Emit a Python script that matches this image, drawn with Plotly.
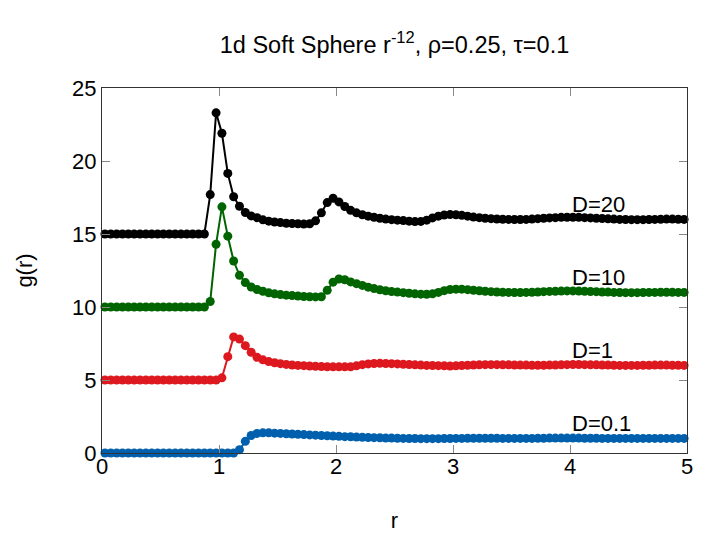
import plotly.graph_objects as go

r = [0.025, 0.075, 0.125, 0.175, 0.225, 0.275, 0.325, 0.375, 0.425, 0.475,
     0.525, 0.575, 0.625, 0.675, 0.725, 0.775, 0.825, 0.875, 0.925, 0.975,
     1.025, 1.075, 1.125, 1.175, 1.225, 1.275, 1.325, 1.375, 1.425, 1.475,
     1.525, 1.575, 1.625, 1.675, 1.725, 1.775, 1.825, 1.875, 1.925, 1.975,
     2.025, 2.075, 2.125, 2.175, 2.225, 2.275, 2.325, 2.375, 2.425, 2.475,
     2.525, 2.575, 2.625, 2.675, 2.725, 2.775, 2.825, 2.875, 2.925, 2.975,
     3.025, 3.075, 3.125, 3.175, 3.225, 3.275, 3.325, 3.375, 3.425, 3.475,
     3.525, 3.575, 3.625, 3.675, 3.725, 3.775, 3.825, 3.875, 3.925, 3.975,
     4.025, 4.075, 4.125, 4.175, 4.225, 4.275, 4.325, 4.375, 4.425, 4.475,
     4.525, 4.575, 4.625, 4.675, 4.725, 4.775, 4.825, 4.875, 4.925, 4.975]

g_D20 = [15.0, 15.0, 15.0, 15.0, 15.0, 15.0, 15.0, 15.0, 15.0, 15.0,
         15.0, 15.0, 15.0, 15.0, 15.0, 15.0, 15.0, 15.0, 17.7, 23.3,
         21.9, 19.15, 17.55, 16.9, 16.47, 16.24, 16.12, 15.97, 15.88, 15.82,
         15.78, 15.74, 15.72, 15.7, 15.68, 15.7, 15.9, 16.45, 17.15, 17.45,
         17.2, 16.88, 16.62, 16.45, 16.32, 16.22, 16.15, 16.08, 16.02, 15.98,
         15.95, 15.92, 15.88, 15.85, 15.86, 15.95, 16.1, 16.22, 16.3, 16.33,
         16.32, 16.28, 16.22, 16.16, 16.12, 16.08, 16.05, 16.03, 16.01, 16.0,
         15.99, 15.99, 16.0, 16.02, 16.05, 16.08, 16.1, 16.12, 16.14, 16.15,
         16.15, 16.14, 16.12, 16.1, 16.08, 16.06, 16.04, 16.02, 16.0, 15.99,
         15.98, 15.98, 15.98, 15.99, 16.0, 16.01, 16.02, 16.02, 16.01, 16.0]

g_D10 = [10.0, 10.0, 10.0, 10.0, 10.0, 10.0, 10.0, 10.0, 10.0, 10.0,
         10.0, 10.0, 10.0, 10.0, 10.0, 10.0, 10.0, 10.0, 10.38, 14.3,
         16.86, 14.85, 13.15, 12.17, 11.67, 11.37, 11.2, 11.08, 10.97, 10.9,
         10.85, 10.81, 10.78, 10.75, 10.72, 10.7, 10.69, 10.7, 11.14, 11.7,
         11.92, 11.87, 11.72, 11.6, 11.48, 11.36, 11.26, 11.18, 11.11, 11.06,
         11.02, 10.98, 10.94, 10.9, 10.88, 10.87, 10.9, 11.0, 11.12, 11.2,
         11.22, 11.22, 11.19, 11.15, 11.11, 11.08, 11.05, 11.03, 11.01, 11.0,
         10.99, 10.99, 11.0, 11.01, 11.03, 11.05, 11.07, 11.08, 11.09, 11.1,
         11.1, 11.09, 11.08, 11.06, 11.05, 11.03, 11.02, 11.0, 10.99, 10.98,
         10.98, 10.98, 10.99, 11.0, 11.0, 11.01, 11.01, 11.01, 11.0, 11.0]

g_D1 = [5.0, 5.0, 5.0, 5.0, 5.0, 5.0, 5.0, 5.0, 5.0, 5.0,
        5.0, 5.0, 5.0, 5.0, 5.0, 5.0, 5.0, 5.0, 5.0, 5.0,
        5.15, 6.6, 7.95, 7.8, 7.35, 6.9, 6.55, 6.38, 6.26, 6.18,
        6.12, 6.07, 6.03, 6.0, 5.98, 5.96, 5.94, 5.92, 5.91, 5.9,
        5.9, 5.9, 5.91, 5.97, 6.05, 6.1, 6.13, 6.14, 6.13, 6.12,
        6.1, 6.08, 6.06, 6.04, 6.02, 6.0, 5.99, 5.98, 5.97, 5.96,
        5.97, 5.99, 6.01, 6.03, 6.04, 6.05, 6.05, 6.05, 6.04, 6.04,
        6.03, 6.02, 6.02, 6.01, 6.01, 6.01, 6.02, 6.03, 6.04, 6.05,
        6.06, 6.06, 6.05, 6.04, 6.04, 6.03, 6.02, 6.01, 6.0, 6.0,
        6.0, 6.0, 6.01, 6.01, 6.02, 6.02, 6.02, 6.01, 6.01, 6.0]

g_D01 = [0.0, 0.0, 0.0, 0.0, 0.0, 0.0, 0.0, 0.0, 0.0, 0.0,
         0.0, 0.0, 0.0, 0.0, 0.0, 0.0, 0.0, 0.0, 0.0, 0.0,
         0.0, 0.0, 0.0, 0.22, 0.8, 1.2, 1.34, 1.38, 1.38, 1.36,
         1.34, 1.32, 1.3, 1.28, 1.26, 1.24, 1.22, 1.2, 1.18, 1.16,
         1.14, 1.12, 1.11, 1.09, 1.08, 1.06, 1.05, 1.04, 1.03, 1.02,
         1.01, 1.0, 0.99, 0.99, 0.98, 0.98, 0.98, 0.98, 0.99, 0.99,
         1.0, 1.0, 1.01, 1.01, 1.01, 1.01, 1.01, 1.01, 1.0, 1.0,
         1.0, 1.0, 1.0, 1.0, 1.01, 1.01, 1.02, 1.02, 1.02, 1.02,
         1.02, 1.02, 1.01, 1.01, 1.01, 1.0, 1.0, 1.0, 1.0, 1.0,
         1.0, 1.0, 1.0, 1.0, 1.0, 1.0, 1.0, 1.0, 1.0, 1.0]

series_names = ["D=20", "D=10", "D=1", "D=0.1"]
series_values = [g_D20, g_D10, g_D1, g_D01]
series_colors = ["#000000", "#006400", "#dd181f", "#0060ad"]
label_x = [4.0, 4.0, 4.0, 4.0]
label_y = [17.0, 12.0, 7.0, 2.0]

x_ticks = [0, 1, 2, 3, 4, 5]
y_ticks = [0, 5, 10, 15, 20, 25]

FONT = "Liberation Sans, Arial, Helvetica, sans-serif"
FS = 22

fig = go.Figure()
for name, vals, col in zip(series_names, series_values, series_colors):
    fig.add_trace(go.Scatter(
        x=r, y=vals, mode="lines+markers", name=name,
        line=dict(color=col, width=2),
        marker=dict(color=col, size=9, symbol="circle"),
        showlegend=False, cliponaxis=False,
    ))

for name, lx, ly in zip(series_names, label_x, label_y):
    fig.add_annotation(x=lx, y=ly, text=name, showarrow=False,
                       xanchor="left", yanchor="middle",
                       font=dict(size=FS, color="#000000", family=FONT))

axis_common = dict(
    showgrid=False, zeroline=False, showline=True, linecolor="#333333",
    linewidth=1, mirror="ticks", ticks="inside", ticklen=8,
    tickcolor="#888888", tickwidth=1,
    tickfont=dict(size=FS, color="#000000", family=FONT),
)

fig.update_xaxes(range=[0, 5], tickvals=x_ticks, ticklabelstandoff=-6,
                 title=dict(text="r", font=dict(size=FS, family=FONT, color="#000000"),
                            standoff=34),
                 **axis_common)
fig.update_yaxes(range=[0, 25], tickvals=y_ticks,
                 title=dict(text="g(r)", font=dict(size=FS, family=FONT, color="#000000"),
                            standoff=33),
                 **axis_common)

fig.update_layout(
    width=727, height=545,
    margin=dict(l=94, r=48, t=80, b=100),
    paper_bgcolor="white", plot_bgcolor="white",
    title=dict(text="1d Soft Sphere r<sup>-12</sup>, ρ=0.25, τ=0.1",
               x=(94 + 679) / 2 / 727, xanchor="center", y=1 - 37 / 545, yanchor="middle",
               font=dict(size=23.5, family=FONT, color="#000000")),
    font=dict(family=FONT),
)

fig.write_html("out.html")
